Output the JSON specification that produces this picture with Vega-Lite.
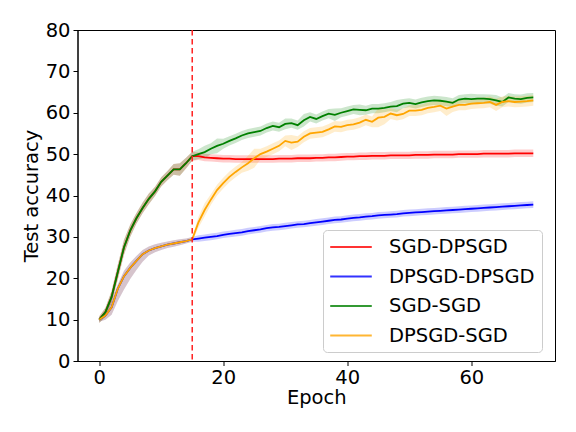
{
  "$schema": "https://vega.github.io/schema/vega-lite/v6.json",
  "width": 477.5,
  "height": 331,
  "autosize": "none",
  "padding": {"left": 77.5, "top": 30, "right": 21, "bottom": 71},
  "background": "white",
  "config": {
    "font": "DejaVu Sans",
    "view": {"stroke": "black", "strokeWidth": 1},
    "axis": {
      "grid": false,
      "domainColor": "black",
      "tickColor": "black",
      "labelColor": "black",
      "titleColor": "black",
      "labelFontSize": 19.5,
      "titleFontSize": 19.5,
      "titleFontWeight": "normal",
      "tickSize": 4.5,
      "labelPadding": 3,
      "labelFont": "DejaVu Sans",
      "titleFont": "DejaVu Sans"
    }
  },
  "data": {
    "values": [
      {"s":"SGD-DPSGD","e":0,"m":10,"l":9.2,"h":10.8},
      {"s":"SGD-DPSGD","e":1,"m":11.8,"l":10.7,"h":12.9},
      {"s":"SGD-DPSGD","e":2,"m":15.5,"l":14.0,"h":17.0},
      {"s":"SGD-DPSGD","e":3,"m":21.5,"l":19.7,"h":23.3},
      {"s":"SGD-DPSGD","e":4,"m":27.5,"l":25.7,"h":29.3},
      {"s":"SGD-DPSGD","e":5,"m":31.5,"l":30.0,"h":33.0},
      {"s":"SGD-DPSGD","e":6,"m":34.5,"l":33.2,"h":35.8},
      {"s":"SGD-DPSGD","e":7,"m":37.0,"l":35.7,"h":38.3},
      {"s":"SGD-DPSGD","e":8,"m":39.2,"l":37.9,"h":40.5},
      {"s":"SGD-DPSGD","e":9,"m":41.0,"l":39.9,"h":42.1},
      {"s":"SGD-DPSGD","e":10,"m":43.3,"l":42.2,"h":44.4},
      {"s":"SGD-DPSGD","e":11,"m":44.8,"l":43.7,"h":45.9},
      {"s":"SGD-DPSGD","e":12,"m":46.3,"l":45.0,"h":47.6},
      {"s":"SGD-DPSGD","e":13,"m":46.3,"l":44.8,"h":47.8},
      {"s":"SGD-DPSGD","e":14,"m":47.8,"l":46.5,"h":49.1},
      {"s":"SGD-DPSGD","e":15,"m":49.5,"l":48.4,"h":50.6},
      {"s":"SGD-DPSGD","e":16,"m":49.5,"l":48.6,"h":50.4},
      {"s":"SGD-DPSGD","e":17,"m":49.2,"l":48.3,"h":50.1},
      {"s":"SGD-DPSGD","e":18,"m":49.1,"l":48.2,"h":50.0},
      {"s":"SGD-DPSGD","e":19,"m":49.0,"l":48.1,"h":49.9},
      {"s":"SGD-DPSGD","e":20,"m":48.9,"l":48.0,"h":49.8},
      {"s":"SGD-DPSGD","e":21,"m":48.9,"l":48.0,"h":49.8},
      {"s":"SGD-DPSGD","e":22,"m":48.8,"l":47.9,"h":49.7},
      {"s":"SGD-DPSGD","e":23,"m":48.8,"l":47.9,"h":49.7},
      {"s":"SGD-DPSGD","e":24,"m":48.8,"l":47.9,"h":49.7},
      {"s":"SGD-DPSGD","e":25,"m":48.8,"l":47.9,"h":49.7},
      {"s":"SGD-DPSGD","e":26,"m":48.8,"l":47.9,"h":49.7},
      {"s":"SGD-DPSGD","e":27,"m":48.8,"l":47.9,"h":49.7},
      {"s":"SGD-DPSGD","e":28,"m":48.8,"l":47.9,"h":49.7},
      {"s":"SGD-DPSGD","e":29,"m":48.9,"l":48.0,"h":49.8},
      {"s":"SGD-DPSGD","e":30,"m":48.9,"l":48.0,"h":49.8},
      {"s":"SGD-DPSGD","e":31,"m":48.9,"l":48.0,"h":49.8},
      {"s":"SGD-DPSGD","e":32,"m":49.0,"l":48.1,"h":49.9},
      {"s":"SGD-DPSGD","e":33,"m":49.0,"l":48.1,"h":49.9},
      {"s":"SGD-DPSGD","e":34,"m":49.0,"l":48.1,"h":49.9},
      {"s":"SGD-DPSGD","e":35,"m":49.1,"l":48.2,"h":50.0},
      {"s":"SGD-DPSGD","e":36,"m":49.1,"l":48.2,"h":50.0},
      {"s":"SGD-DPSGD","e":37,"m":49.2,"l":48.3,"h":50.1},
      {"s":"SGD-DPSGD","e":38,"m":49.2,"l":48.3,"h":50.1},
      {"s":"SGD-DPSGD","e":39,"m":49.3,"l":48.4,"h":50.2},
      {"s":"SGD-DPSGD","e":40,"m":49.4,"l":48.5,"h":50.3},
      {"s":"SGD-DPSGD","e":41,"m":49.4,"l":48.5,"h":50.3},
      {"s":"SGD-DPSGD","e":42,"m":49.5,"l":48.6,"h":50.4},
      {"s":"SGD-DPSGD","e":43,"m":49.5,"l":48.6,"h":50.4},
      {"s":"SGD-DPSGD","e":44,"m":49.6,"l":48.7,"h":50.5},
      {"s":"SGD-DPSGD","e":45,"m":49.6,"l":48.7,"h":50.5},
      {"s":"SGD-DPSGD","e":46,"m":49.6,"l":48.7,"h":50.5},
      {"s":"SGD-DPSGD","e":47,"m":49.7,"l":48.8,"h":50.6},
      {"s":"SGD-DPSGD","e":48,"m":49.7,"l":48.8,"h":50.6},
      {"s":"SGD-DPSGD","e":49,"m":49.7,"l":48.8,"h":50.6},
      {"s":"SGD-DPSGD","e":50,"m":49.7,"l":48.8,"h":50.6},
      {"s":"SGD-DPSGD","e":51,"m":49.8,"l":48.9,"h":50.7},
      {"s":"SGD-DPSGD","e":52,"m":49.8,"l":48.9,"h":50.7},
      {"s":"SGD-DPSGD","e":53,"m":49.8,"l":48.9,"h":50.7},
      {"s":"SGD-DPSGD","e":54,"m":49.9,"l":49.0,"h":50.8},
      {"s":"SGD-DPSGD","e":55,"m":49.9,"l":49.0,"h":50.8},
      {"s":"SGD-DPSGD","e":56,"m":49.9,"l":49.0,"h":50.8},
      {"s":"SGD-DPSGD","e":57,"m":49.9,"l":49.0,"h":50.8},
      {"s":"SGD-DPSGD","e":58,"m":50.0,"l":49.1,"h":50.9},
      {"s":"SGD-DPSGD","e":59,"m":50.0,"l":49.1,"h":50.9},
      {"s":"SGD-DPSGD","e":60,"m":50.0,"l":49.1,"h":50.9},
      {"s":"SGD-DPSGD","e":61,"m":50.0,"l":49.1,"h":50.9},
      {"s":"SGD-DPSGD","e":62,"m":50.1,"l":49.2,"h":51.0},
      {"s":"SGD-DPSGD","e":63,"m":50.1,"l":49.2,"h":51.0},
      {"s":"SGD-DPSGD","e":64,"m":50.1,"l":49.2,"h":51.0},
      {"s":"SGD-DPSGD","e":65,"m":50.1,"l":49.2,"h":51.0},
      {"s":"SGD-DPSGD","e":66,"m":50.1,"l":49.2,"h":51.0},
      {"s":"SGD-DPSGD","e":67,"m":50.2,"l":49.3,"h":51.1},
      {"s":"SGD-DPSGD","e":68,"m":50.2,"l":49.3,"h":51.1},
      {"s":"SGD-DPSGD","e":69,"m":50.2,"l":49.3,"h":51.1},
      {"s":"SGD-DPSGD","e":70,"m":50.2,"l":49.3,"h":51.1},

      {"s":"DPSGD-DPSGD","e":0,"m":10,"l":9.5,"h":10.5},
      {"s":"DPSGD-DPSGD","e":1,"m":11.0,"l":10.0,"h":12.0},
      {"s":"DPSGD-DPSGD","e":2,"m":13.0,"l":11.2,"h":14.8},
      {"s":"DPSGD-DPSGD","e":3,"m":17.5,"l":14.5,"h":18.5},
      {"s":"DPSGD-DPSGD","e":4,"m":20.5,"l":17.3,"h":21.8},
      {"s":"DPSGD-DPSGD","e":5,"m":22.5,"l":19.8,"h":23.8},
      {"s":"DPSGD-DPSGD","e":6,"m":24.2,"l":22.0,"h":25.4},
      {"s":"DPSGD-DPSGD","e":7,"m":25.8,"l":24.0,"h":26.8},
      {"s":"DPSGD-DPSGD","e":8,"m":26.7,"l":25.5,"h":27.7},
      {"s":"DPSGD-DPSGD","e":9,"m":27.3,"l":26.3,"h":28.2},
      {"s":"DPSGD-DPSGD","e":10,"m":27.7,"l":26.8,"h":28.6},
      {"s":"DPSGD-DPSGD","e":11,"m":28.1,"l":27.3,"h":28.9},
      {"s":"DPSGD-DPSGD","e":12,"m":28.4,"l":27.6,"h":29.2},
      {"s":"DPSGD-DPSGD","e":13,"m":28.7,"l":28.0,"h":29.4},
      {"s":"DPSGD-DPSGD","e":14,"m":29.0,"l":28.4,"h":29.6},
      {"s":"DPSGD-DPSGD","e":15,"m":29.4,"l":28.8,"h":30.0},
      {"s":"DPSGD-DPSGD","e":16,"m":29.6,"l":28.8,"h":30.4},
      {"s":"DPSGD-DPSGD","e":17,"m":29.8,"l":29.0,"h":30.6},
      {"s":"DPSGD-DPSGD","e":18,"m":30.0,"l":29.2,"h":30.8},
      {"s":"DPSGD-DPSGD","e":19,"m":30.2,"l":29.4,"h":31.0},
      {"s":"DPSGD-DPSGD","e":20,"m":30.5,"l":29.7,"h":31.3},
      {"s":"DPSGD-DPSGD","e":21,"m":30.7,"l":29.9,"h":31.5},
      {"s":"DPSGD-DPSGD","e":22,"m":30.9,"l":30.1,"h":31.7},
      {"s":"DPSGD-DPSGD","e":23,"m":31.1,"l":30.3,"h":31.9},
      {"s":"DPSGD-DPSGD","e":24,"m":31.4,"l":30.6,"h":32.2},
      {"s":"DPSGD-DPSGD","e":25,"m":31.6,"l":30.8,"h":32.4},
      {"s":"DPSGD-DPSGD","e":26,"m":31.8,"l":31.0,"h":32.6},
      {"s":"DPSGD-DPSGD","e":27,"m":32.1,"l":31.3,"h":32.9},
      {"s":"DPSGD-DPSGD","e":28,"m":32.3,"l":31.5,"h":33.1},
      {"s":"DPSGD-DPSGD","e":29,"m":32.4,"l":31.6,"h":33.2},
      {"s":"DPSGD-DPSGD","e":30,"m":32.6,"l":31.8,"h":33.4},
      {"s":"DPSGD-DPSGD","e":31,"m":32.8,"l":32.0,"h":33.6},
      {"s":"DPSGD-DPSGD","e":32,"m":33.0,"l":32.2,"h":33.8},
      {"s":"DPSGD-DPSGD","e":33,"m":33.1,"l":32.3,"h":33.9},
      {"s":"DPSGD-DPSGD","e":34,"m":33.3,"l":32.5,"h":34.1},
      {"s":"DPSGD-DPSGD","e":35,"m":33.5,"l":32.7,"h":34.3},
      {"s":"DPSGD-DPSGD","e":36,"m":33.7,"l":32.9,"h":34.5},
      {"s":"DPSGD-DPSGD","e":37,"m":33.9,"l":33.1,"h":34.7},
      {"s":"DPSGD-DPSGD","e":38,"m":34.1,"l":33.3,"h":34.9},
      {"s":"DPSGD-DPSGD","e":39,"m":34.2,"l":33.4,"h":35.0},
      {"s":"DPSGD-DPSGD","e":40,"m":34.4,"l":33.6,"h":35.2},
      {"s":"DPSGD-DPSGD","e":41,"m":34.6,"l":33.8,"h":35.4},
      {"s":"DPSGD-DPSGD","e":42,"m":34.7,"l":33.9,"h":35.5},
      {"s":"DPSGD-DPSGD","e":43,"m":34.9,"l":34.1,"h":35.7},
      {"s":"DPSGD-DPSGD","e":44,"m":35.0,"l":34.2,"h":35.8},
      {"s":"DPSGD-DPSGD","e":45,"m":35.2,"l":34.4,"h":36.0},
      {"s":"DPSGD-DPSGD","e":46,"m":35.3,"l":34.5,"h":36.1},
      {"s":"DPSGD-DPSGD","e":47,"m":35.4,"l":34.6,"h":36.2},
      {"s":"DPSGD-DPSGD","e":48,"m":35.5,"l":34.7,"h":36.3},
      {"s":"DPSGD-DPSGD","e":49,"m":35.7,"l":34.9,"h":36.5},
      {"s":"DPSGD-DPSGD","e":50,"m":35.8,"l":35.0,"h":36.6},
      {"s":"DPSGD-DPSGD","e":51,"m":35.9,"l":35.1,"h":36.7},
      {"s":"DPSGD-DPSGD","e":52,"m":36.0,"l":35.2,"h":36.8},
      {"s":"DPSGD-DPSGD","e":53,"m":36.1,"l":35.3,"h":36.9},
      {"s":"DPSGD-DPSGD","e":54,"m":36.2,"l":35.4,"h":37.0},
      {"s":"DPSGD-DPSGD","e":55,"m":36.3,"l":35.5,"h":37.1},
      {"s":"DPSGD-DPSGD","e":56,"m":36.4,"l":35.6,"h":37.2},
      {"s":"DPSGD-DPSGD","e":57,"m":36.5,"l":35.7,"h":37.3},
      {"s":"DPSGD-DPSGD","e":58,"m":36.6,"l":35.8,"h":37.4},
      {"s":"DPSGD-DPSGD","e":59,"m":36.7,"l":35.9,"h":37.5},
      {"s":"DPSGD-DPSGD","e":60,"m":36.8,"l":36.0,"h":37.6},
      {"s":"DPSGD-DPSGD","e":61,"m":36.9,"l":36.1,"h":37.7},
      {"s":"DPSGD-DPSGD","e":62,"m":37.0,"l":36.2,"h":37.8},
      {"s":"DPSGD-DPSGD","e":63,"m":37.1,"l":36.3,"h":37.9},
      {"s":"DPSGD-DPSGD","e":64,"m":37.2,"l":36.4,"h":38.0},
      {"s":"DPSGD-DPSGD","e":65,"m":37.3,"l":36.5,"h":38.1},
      {"s":"DPSGD-DPSGD","e":66,"m":37.4,"l":36.6,"h":38.2},
      {"s":"DPSGD-DPSGD","e":67,"m":37.5,"l":36.7,"h":38.3},
      {"s":"DPSGD-DPSGD","e":68,"m":37.6,"l":36.8,"h":38.4},
      {"s":"DPSGD-DPSGD","e":69,"m":37.7,"l":36.9,"h":38.5},
      {"s":"DPSGD-DPSGD","e":70,"m":37.8,"l":37.0,"h":38.6},

      {"s":"SGD-SGD","e":0,"m":10,"l":9.2,"h":10.8},
      {"s":"SGD-SGD","e":1,"m":11.8,"l":10.7,"h":12.9},
      {"s":"SGD-SGD","e":2,"m":15.5,"l":14.0,"h":17.0},
      {"s":"SGD-SGD","e":3,"m":21.5,"l":19.7,"h":23.3},
      {"s":"SGD-SGD","e":4,"m":27.5,"l":25.7,"h":29.3},
      {"s":"SGD-SGD","e":5,"m":31.5,"l":30.0,"h":33.0},
      {"s":"SGD-SGD","e":6,"m":34.5,"l":33.2,"h":35.8},
      {"s":"SGD-SGD","e":7,"m":37.0,"l":35.7,"h":38.3},
      {"s":"SGD-SGD","e":8,"m":39.2,"l":37.9,"h":40.5},
      {"s":"SGD-SGD","e":9,"m":41.0,"l":39.9,"h":42.1},
      {"s":"SGD-SGD","e":10,"m":43.3,"l":42.2,"h":44.4},
      {"s":"SGD-SGD","e":11,"m":44.8,"l":43.7,"h":45.9},
      {"s":"SGD-SGD","e":12,"m":46.3,"l":45.0,"h":47.6},
      {"s":"SGD-SGD","e":13,"m":46.3,"l":44.8,"h":47.8},
      {"s":"SGD-SGD","e":14,"m":47.8,"l":46.5,"h":49.1},
      {"s":"SGD-SGD","e":15,"m":49.5,"l":48.4,"h":50.6},
      {"s":"SGD-SGD","e":16,"m":50.0,"l":48.8,"h":51.2},
      {"s":"SGD-SGD","e":17,"m":50.5,"l":49.0,"h":52.0},
      {"s":"SGD-SGD","e":18,"m":51.3,"l":50.0,"h":52.6},
      {"s":"SGD-SGD","e":19,"m":52.0,"l":50.2,"h":53.8},
      {"s":"SGD-SGD","e":20,"m":52.5,"l":51.3,"h":53.7},
      {"s":"SGD-SGD","e":21,"m":53.2,"l":52.1,"h":54.3},
      {"s":"SGD-SGD","e":22,"m":53.8,"l":52.7,"h":54.9},
      {"s":"SGD-SGD","e":23,"m":54.5,"l":53.4,"h":55.6},
      {"s":"SGD-SGD","e":24,"m":55.0,"l":53.9,"h":56.1},
      {"s":"SGD-SGD","e":25,"m":55.3,"l":54.2,"h":56.4},
      {"s":"SGD-SGD","e":26,"m":55.6,"l":54.5,"h":56.7},
      {"s":"SGD-SGD","e":27,"m":56.3,"l":55.2,"h":57.4},
      {"s":"SGD-SGD","e":28,"m":56.8,"l":55.7,"h":57.9},
      {"s":"SGD-SGD","e":29,"m":56.5,"l":55.4,"h":57.6},
      {"s":"SGD-SGD","e":30,"m":57.3,"l":56.0,"h":58.6},
      {"s":"SGD-SGD","e":31,"m":57.5,"l":56.4,"h":58.6},
      {"s":"SGD-SGD","e":32,"m":57.0,"l":55.9,"h":58.1},
      {"s":"SGD-SGD","e":33,"m":58.2,"l":56.7,"h":59.7},
      {"s":"SGD-SGD","e":34,"m":59.0,"l":57.9,"h":60.1},
      {"s":"SGD-SGD","e":35,"m":58.5,"l":57.4,"h":59.6},
      {"s":"SGD-SGD","e":36,"m":59.2,"l":58.1,"h":60.3},
      {"s":"SGD-SGD","e":37,"m":59.8,"l":58.7,"h":60.9},
      {"s":"SGD-SGD","e":38,"m":59.5,"l":58.0,"h":61.0},
      {"s":"SGD-SGD","e":39,"m":60.0,"l":58.9,"h":61.1},
      {"s":"SGD-SGD","e":40,"m":60.4,"l":59.3,"h":61.5},
      {"s":"SGD-SGD","e":41,"m":60.8,"l":59.7,"h":61.9},
      {"s":"SGD-SGD","e":42,"m":60.7,"l":59.4,"h":62.0},
      {"s":"SGD-SGD","e":43,"m":60.6,"l":59.5,"h":61.7},
      {"s":"SGD-SGD","e":44,"m":61.0,"l":59.9,"h":62.1},
      {"s":"SGD-SGD","e":45,"m":61.0,"l":59.9,"h":62.1},
      {"s":"SGD-SGD","e":46,"m":61.2,"l":60.1,"h":62.3},
      {"s":"SGD-SGD","e":47,"m":61.5,"l":60.4,"h":62.6},
      {"s":"SGD-SGD","e":48,"m":61.6,"l":60.1,"h":63.1},
      {"s":"SGD-SGD","e":49,"m":62.2,"l":61.1,"h":63.3},
      {"s":"SGD-SGD","e":50,"m":62.4,"l":61.3,"h":63.5},
      {"s":"SGD-SGD","e":51,"m":62.1,"l":61.0,"h":63.2},
      {"s":"SGD-SGD","e":52,"m":62.5,"l":61.4,"h":63.6},
      {"s":"SGD-SGD","e":53,"m":62.8,"l":61.7,"h":63.9},
      {"s":"SGD-SGD","e":54,"m":63.0,"l":61.9,"h":64.1},
      {"s":"SGD-SGD","e":55,"m":62.9,"l":61.8,"h":64.0},
      {"s":"SGD-SGD","e":56,"m":62.7,"l":61.6,"h":63.8},
      {"s":"SGD-SGD","e":57,"m":62.4,"l":61.3,"h":63.5},
      {"s":"SGD-SGD","e":58,"m":63.2,"l":62.1,"h":64.3},
      {"s":"SGD-SGD","e":59,"m":63.4,"l":62.3,"h":64.5},
      {"s":"SGD-SGD","e":60,"m":63.3,"l":62.0,"h":64.6},
      {"s":"SGD-SGD","e":61,"m":63.4,"l":62.3,"h":64.5},
      {"s":"SGD-SGD","e":62,"m":63.4,"l":62.3,"h":64.5},
      {"s":"SGD-SGD","e":63,"m":63.3,"l":62.2,"h":64.4},
      {"s":"SGD-SGD","e":64,"m":63.0,"l":61.7,"h":64.3},
      {"s":"SGD-SGD","e":65,"m":62.6,"l":61.5,"h":63.7},
      {"s":"SGD-SGD","e":66,"m":63.7,"l":62.6,"h":64.8},
      {"s":"SGD-SGD","e":67,"m":63.4,"l":62.3,"h":64.5},
      {"s":"SGD-SGD","e":68,"m":63.3,"l":62.2,"h":64.4},
      {"s":"SGD-SGD","e":69,"m":63.6,"l":62.5,"h":64.7},
      {"s":"SGD-SGD","e":70,"m":63.7,"l":62.6,"h":64.8},

      {"s":"DPSGD-SGD","e":0,"m":10,"l":9.5,"h":10.5},
      {"s":"DPSGD-SGD","e":1,"m":11.0,"l":10.0,"h":12.0},
      {"s":"DPSGD-SGD","e":2,"m":13.0,"l":11.2,"h":14.8},
      {"s":"DPSGD-SGD","e":3,"m":17.5,"l":14.5,"h":18.5},
      {"s":"DPSGD-SGD","e":4,"m":20.5,"l":17.3,"h":21.8},
      {"s":"DPSGD-SGD","e":5,"m":22.5,"l":19.8,"h":23.8},
      {"s":"DPSGD-SGD","e":6,"m":24.2,"l":22.0,"h":25.4},
      {"s":"DPSGD-SGD","e":7,"m":25.8,"l":24.0,"h":26.8},
      {"s":"DPSGD-SGD","e":8,"m":26.7,"l":25.5,"h":27.7},
      {"s":"DPSGD-SGD","e":9,"m":27.3,"l":26.3,"h":28.2},
      {"s":"DPSGD-SGD","e":10,"m":27.7,"l":26.8,"h":28.6},
      {"s":"DPSGD-SGD","e":11,"m":28.1,"l":27.3,"h":28.9},
      {"s":"DPSGD-SGD","e":12,"m":28.4,"l":27.6,"h":29.2},
      {"s":"DPSGD-SGD","e":13,"m":28.7,"l":28.0,"h":29.4},
      {"s":"DPSGD-SGD","e":14,"m":29.0,"l":28.4,"h":29.6},
      {"s":"DPSGD-SGD","e":15,"m":29.4,"l":28.8,"h":30.0},
      {"s":"DPSGD-SGD","e":16,"m":33.5,"l":32.2,"h":34.8},
      {"s":"DPSGD-SGD","e":17,"m":36.5,"l":34.9,"h":38.1},
      {"s":"DPSGD-SGD","e":18,"m":39.0,"l":37.7,"h":40.3},
      {"s":"DPSGD-SGD","e":19,"m":41.3,"l":40.0,"h":42.6},
      {"s":"DPSGD-SGD","e":20,"m":43.0,"l":41.7,"h":44.3},
      {"s":"DPSGD-SGD","e":21,"m":44.5,"l":43.2,"h":45.8},
      {"s":"DPSGD-SGD","e":22,"m":45.7,"l":44.4,"h":47.0},
      {"s":"DPSGD-SGD","e":23,"m":46.8,"l":45.5,"h":48.1},
      {"s":"DPSGD-SGD","e":24,"m":47.8,"l":46.0,"h":49.6},
      {"s":"DPSGD-SGD","e":25,"m":49.0,"l":46.7,"h":51.3},
      {"s":"DPSGD-SGD","e":26,"m":50.0,"l":48.7,"h":51.3},
      {"s":"DPSGD-SGD","e":27,"m":50.6,"l":49.3,"h":51.9},
      {"s":"DPSGD-SGD","e":28,"m":51.3,"l":50.0,"h":52.6},
      {"s":"DPSGD-SGD","e":29,"m":52.0,"l":50.7,"h":53.3},
      {"s":"DPSGD-SGD","e":30,"m":53.2,"l":51.9,"h":54.5},
      {"s":"DPSGD-SGD","e":31,"m":52.8,"l":51.0,"h":54.6},
      {"s":"DPSGD-SGD","e":32,"m":53.0,"l":51.7,"h":54.3},
      {"s":"DPSGD-SGD","e":33,"m":54.2,"l":52.9,"h":55.5},
      {"s":"DPSGD-SGD","e":34,"m":55.0,"l":53.7,"h":56.3},
      {"s":"DPSGD-SGD","e":35,"m":55.2,"l":53.9,"h":56.5},
      {"s":"DPSGD-SGD","e":36,"m":55.4,"l":54.1,"h":56.7},
      {"s":"DPSGD-SGD","e":37,"m":56.0,"l":54.7,"h":57.3},
      {"s":"DPSGD-SGD","e":38,"m":56.7,"l":55.4,"h":58.0},
      {"s":"DPSGD-SGD","e":39,"m":56.6,"l":55.3,"h":57.9},
      {"s":"DPSGD-SGD","e":40,"m":57.0,"l":55.7,"h":58.3},
      {"s":"DPSGD-SGD","e":41,"m":57.2,"l":55.9,"h":58.5},
      {"s":"DPSGD-SGD","e":42,"m":57.6,"l":56.3,"h":58.9},
      {"s":"DPSGD-SGD","e":43,"m":58.3,"l":57.0,"h":59.6},
      {"s":"DPSGD-SGD","e":44,"m":57.8,"l":56.5,"h":59.1},
      {"s":"DPSGD-SGD","e":45,"m":58.8,"l":56.5,"h":61.1},
      {"s":"DPSGD-SGD","e":46,"m":59.0,"l":57.2,"h":60.8},
      {"s":"DPSGD-SGD","e":47,"m":59.8,"l":58.5,"h":61.1},
      {"s":"DPSGD-SGD","e":48,"m":59.4,"l":58.1,"h":60.7},
      {"s":"DPSGD-SGD","e":49,"m":59.7,"l":58.4,"h":61.0},
      {"s":"DPSGD-SGD","e":50,"m":60.5,"l":59.2,"h":61.8},
      {"s":"DPSGD-SGD","e":51,"m":60.5,"l":59.2,"h":61.8},
      {"s":"DPSGD-SGD","e":52,"m":60.7,"l":59.4,"h":62.0},
      {"s":"DPSGD-SGD","e":53,"m":61.2,"l":59.9,"h":62.5},
      {"s":"DPSGD-SGD","e":54,"m":61.4,"l":60.1,"h":62.7},
      {"s":"DPSGD-SGD","e":55,"m":61.7,"l":60.4,"h":63.0},
      {"s":"DPSGD-SGD","e":56,"m":61.0,"l":59.2,"h":62.8},
      {"s":"DPSGD-SGD","e":57,"m":61.5,"l":60.2,"h":62.8},
      {"s":"DPSGD-SGD","e":58,"m":61.9,"l":60.6,"h":63.2},
      {"s":"DPSGD-SGD","e":59,"m":61.9,"l":60.6,"h":63.2},
      {"s":"DPSGD-SGD","e":60,"m":62.2,"l":60.9,"h":63.5},
      {"s":"DPSGD-SGD","e":61,"m":62.3,"l":61.0,"h":63.6},
      {"s":"DPSGD-SGD","e":62,"m":62.4,"l":61.1,"h":63.7},
      {"s":"DPSGD-SGD","e":63,"m":62.6,"l":61.3,"h":63.9},
      {"s":"DPSGD-SGD","e":64,"m":61.9,"l":60.4,"h":63.4},
      {"s":"DPSGD-SGD","e":65,"m":62.6,"l":61.3,"h":63.9},
      {"s":"DPSGD-SGD","e":66,"m":62.8,"l":61.5,"h":64.1},
      {"s":"DPSGD-SGD","e":67,"m":62.6,"l":61.3,"h":63.9},
      {"s":"DPSGD-SGD","e":68,"m":62.7,"l":61.4,"h":64.0},
      {"s":"DPSGD-SGD","e":69,"m":62.8,"l":61.5,"h":64.1},
      {"s":"DPSGD-SGD","e":70,"m":63.0,"l":61.7,"h":64.3}
    ]
  },
  "encoding": {
    "x": {
      "field": "e", "type": "quantitative",
      "scale": {"domain": [-3.5, 73.5], "nice": false, "zero": false},
      "axis": {"values": [0, 20, 40, 60], "title": "Epoch", "titlePadding": 1}
    },
    "color": {
      "field": "s", "type": "nominal",
      "scale": {
        "domain": ["SGD-DPSGD", "DPSGD-DPSGD", "SGD-SGD", "DPSGD-SGD"],
        "range": ["#ff0000", "#0000ff", "#008000", "#ffa500"]
      },
      "legend": {
        "title": null,
        "orient": "none",
        "legendX": 245.5,
        "legendY": 200,
        "symbolType": "M-2.4,0L2.4,0",
        "symbolSize": 300,
        "symbolStrokeWidth": 2,
        "symbolOpacity": 0.8,
        "symbolFillColor": "transparent",
        "labelFontSize": 19.5,
        "labelFont": "DejaVu Sans",
        "labelColor": "black",
        "labelOffset": 28,
        "symbolOffset": 11,
        "rowPadding": 9.5,
        "padding": 7,
        "strokeColor": "#cccccc",
        "fillColor": "rgba(255,255,255,0.8)",
        "cornerRadius": 4
      }
    }
  },
  "layer": [
    {
      "mark": {"type": "area", "fillOpacity": 0.2, "strokeWidth": 0},
      "encoding": {
        "y": {"field": "l", "type": "quantitative", "scale": {"domain": [0, 80], "nice": false}},
        "y2": {"field": "h"}
      }
    },
    {
      "mark": {"type": "line", "strokeWidth": 1.8},
      "encoding": {
        "y": {
          "field": "m", "type": "quantitative",
          "scale": {"domain": [0, 80], "nice": false},
          "axis": {"values": [0, 10, 20, 30, 40, 50, 60, 70, 80], "title": "Test accuracy", "titlePadding": 4}
        }
      }
    },
    {
      "data": {"values": [{"split": 15}]},
      "mark": {"type": "rule", "color": "#ff2020", "strokeWidth": 1.5, "strokeDash": [5.5, 3.5]},
      "encoding": {
        "x": {"field": "split", "type": "quantitative"},
        "color": null
      }
    }
  ]
}
